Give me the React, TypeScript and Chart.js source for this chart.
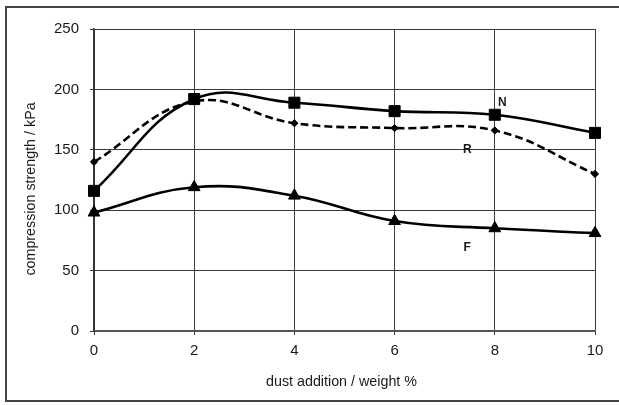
import React, { useEffect, useRef } from "react";
import { Chart, registerables } from "chart.js";

Chart.register(...registerables);

const dustAddition = [0, 2, 4, 6, 8, 10];
const seriesN = [116, 192, 189, 182, 179, 164];
const seriesR = [140, 190, 172, 168, 166, 130];
const seriesF = [98, 119, 112, 91, 85, 81];
const seriesNames = ["N", "R", "F"];
const curveLabelPos = [
  { x: 8.15, y: 189 },
  { x: 7.45, y: 150 },
  { x: 7.45, y: 69 },
];
const xTitle = "dust addition / weight %";
const yTitle = "compression strength / kPa";

const FONT = "'Liberation Sans', Arial, Helvetica, sans-serif";

const toXY = (vals: number[]) => vals.map((v, i) => ({ x: dustAddition[i], y: v }));

const decorPlugin = {
  id: "decor",
  afterDraw(chart: any) {
    const ctx = chart.ctx;
    const xs = chart.scales.x;
    const ys = chart.scales.y;
    ctx.save();
    // outer frame
    ctx.strokeStyle = "#444";
    ctx.lineWidth = 2;
    ctx.beginPath();
    ctx.moveTo(625, 7);
    ctx.lineTo(6, 7);
    ctx.lineTo(6, 401);
    ctx.lineTo(625, 401);
    ctx.stroke();
    // axis titles
    ctx.fillStyle = "#1a1a1a";
    ctx.font = `14.3px ${FONT}`;
    ctx.textAlign = "center";
    ctx.textBaseline = "middle";
    ctx.fillText(xTitle, (chart.chartArea.left + chart.chartArea.right) / 2 - 3, 382);
    ctx.save();
    ctx.translate(31, 189);
    ctx.rotate(-Math.PI / 2);
    ctx.fillText(yTitle, 0, 0);
    ctx.restore();
    // curve labels
    ctx.font = `bold 12px ${FONT}`;
    seriesNames.forEach((n, i) => {
      const p = curveLabelPos[i];
      ctx.fillText(n, xs.getPixelForValue(p.x), ys.getPixelForValue(p.y));
    });
    ctx.restore();
  },
};

export default function App() {
  const ref = useRef<HTMLCanvasElement | null>(null);
  useEffect(() => {
    document.body.style.margin = "0";
    document.body.style.overflow = "hidden";
    const canvas = ref.current!;
    const common = {
      borderColor: "#000",
      backgroundColor: "#000",
      pointBackgroundColor: "#000",
      pointBorderColor: "#000",
      pointBorderWidth: 1,
      borderWidth: 2.6,
      tension: 0.42,
      clip: false as any,
      fill: false,
    };
    const chart = new Chart(canvas, {
      type: "line",
      data: {
        datasets: [
          {
            ...common,
            label: seriesNames[0],
            data: toXY(seriesN),
            pointStyle: "rect",
            pointRadius: 7.8,
          },
          {
            ...common,
            label: seriesNames[1],
            data: toXY(seriesR),
            pointStyle: "rectRot",
            pointRadius: 3.6,
            borderDash: [8, 4],
          },
          {
            ...common,
            label: seriesNames[2],
            data: toXY(seriesF),
            pointStyle: "triangle",
            pointRadius: 6.8,
          },
        ],
      },
      options: {
        animation: false,
        responsive: false,
        devicePixelRatio: 1,
        layout: { padding: { left: 0, top: 29, right: 24, bottom: 0 } },
        plugins: { legend: { display: false }, tooltip: { enabled: false } },
        scales: {
          x: {
            type: "linear",
            min: 0,
            max: 10,
            afterFit: (s: any) => {
              s.height = 74;
            },
            ticks: {
              stepSize: 2,
              padding: 7,
              color: "#1a1a1a",
              font: { family: FONT, size: 15 },
            },
            grid: { color: "#3a3a3a", lineWidth: 1, tickLength: 4 },
            border: { color: "#555", width: 2 },
          },
          y: {
            type: "linear",
            min: 0,
            max: 250,
            afterFit: (s: any) => {
              s.width = 94;
            },
            ticks: {
              stepSize: 50,
              padding: 11,
              color: "#1a1a1a",
              font: { family: FONT, size: 15 },
            },
            grid: { color: "#3a3a3a", lineWidth: 1, tickLength: 4 },
            border: { color: "#333", width: 1.5 },
          },
        },
      },
      plugins: [decorPlugin],
    });
    return () => chart.destroy();
  }, []);
  return <canvas ref={ref} width={619} height={405} style={{ display: "block" }} />;
}
